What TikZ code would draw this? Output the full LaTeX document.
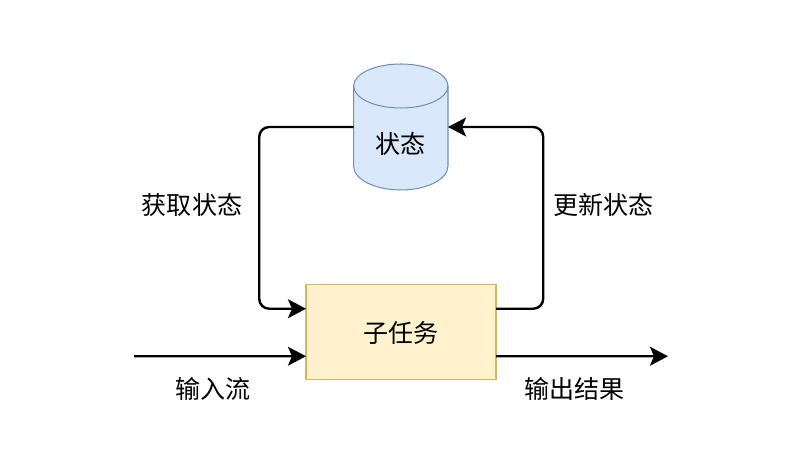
\documentclass[tikz,border=0pt]{standalone}
\usepackage{fontspec}
\setmainfont{Noto Sans CJK SC}
\usepackage{tikz}
\usetikzlibrary{arrows.meta,calc}

\tikzset{
	flow/.style={line width=1.7pt,-{Stealth[length=12.8pt,width=13.4pt,inset=2.8pt]}},
	statestore/.style={minimum width=2.36cm,minimum height=3.15cm,inner sep=0pt,outer sep=0pt},
	statedraw/.style={draw=stateline,fill=statefill,line width=0.72pt},
	taskbox/.style={draw=taskline,fill=taskfill,line width=0.72pt,minimum width=4.75cm,minimum height=2.375cm,inner sep=0pt,outer sep=0pt},
	tag/.style={inner sep=0pt,font=\fontsize{17.8pt}{21pt}\selectfont}
}
\definecolor{statefill}{HTML}{DAE8FC}
\definecolor{stateline}{HTML}{6C8EBF}
\definecolor{taskfill}{HTML}{FFF2CC}
\definecolor{taskline}{HTML}{D6B656}

\begin{document}
\begin{tikzpicture}
	\useasboundingbox (0,0) rectangle (20,11.9);
	\node[statestore] (state) at (10.02,8.725) {};
	% drum body, then the front edge of its lid
	\draw[statedraw] (8.84,9.75) -- (8.84,7.75) arc[start angle=180,end angle=360,x radius=1.18,y radius=0.6] -- (11.2,9.75) arc[start angle=0,end angle=180,x radius=1.18,y radius=0.55] -- cycle;
	\draw[statedraw,fill=none] (8.84,9.75) arc[start angle=180,end angle=360,x radius=1.18,y radius=0.55];
	\node[tag] (statetext) at (10.02,8.3) {状态};
	\node[taskbox] (task) at (10.025,3.5875) {};
	\node[tag] (tasklabel) at (10.025,3.575) {子任务};
	\coordinate (taskin) at ($(task.north west)!0.25!(task.south west)$);
	\coordinate (taskback) at ($(task.north east)!0.25!(task.south east)$);
	\coordinate (streamin) at ($(task.north west)!0.75!(task.south west)$);
	\coordinate (resultout) at ($(task.north east)!0.75!(task.south east)$);
	\coordinate (source) at (3.35,2.99375);
	\coordinate (sink) at (16.7,2.99375);
	\coordinate (readbend) at (6.48,4.18125);
	\coordinate (writebend) at (13.58,8.725);
	% read and write loops
	\draw[flow,rounded corners=0.25cm] (state.west) -| (readbend) -- (taskin);
	\draw[flow,rounded corners=0.25cm] (taskback) -| (writebend) -- (state.east);
	% stream through the task
	\draw[flow] (source) -- (streamin);
	\draw[flow] (resultout) -- (sink);
	\node[tag] (getlabel) at (4.8,6.78) {获取状态};
	\node[tag] (putlabel) at (15.08,6.78) {更新状态};
	\node[tag] (inlabel) at (5.32,2.18) {输入流};
	\node[tag] (outlabel) at (14.37,2.18) {输出结果};
\end{tikzpicture}
\end{document}
